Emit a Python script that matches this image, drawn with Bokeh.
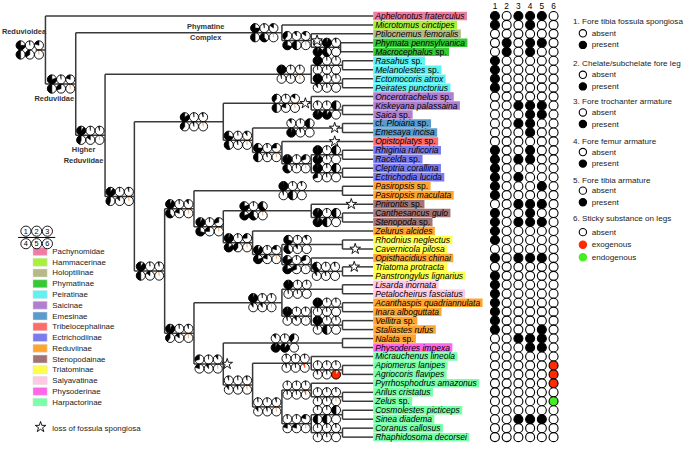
import math
from bokeh.plotting import figure
from bokeh.models import Range1d
from bokeh.embed import file_html
from bokeh.resources import INLINE
from bokeh.core.properties import value

# ---------------- DATA ----------------
taxa = [
    "Aphelonotus fraterculus", "Microtomus cinctipes", "Ptilocnemus femoralis",
    "Phymata pennsylvanica", "Macrocephalus sp.", "Rasahus sp.", "Melanolestes sp.",
    "Ectomocoris atrox", "Peirates punctorius", "Oncerotrachelus sp.",
    "Kiskeyana palassaina", "Saica sp.", "cf. Ploiaria sp.", "Emesaya incisa",
    "Opistoplatys sp.", "Rhiginia ruficoria", "Racelda sp.", "Cleptria corallina",
    "Ectrichodia lucida", "Pasiropsis sp.", "Pasiropsis maculata", "Pnirontis sp.",
    "Canthesancus gulo", "Stenopoda sp.", "Zelurus alcides", "Rhodnius neglectus",
    "Cavernicola pilosa", "Opisthacidius chinai", "Triatoma protracta",
    "Panstrongylus lignarius", "Lisarda inornata", "Petalocheirus fasciatus",
    "Acanthaspis quadriannulata", "Inara alboguttata", "Vellitra sp.",
    "Staliastes rufus", "Nalata sp.", "Physoderes impexa", "Micrauchenus lineola",
    "Apiomerus lanipes", "Agriocoris flavipes", "Pyrrhosphodrus amazonus",
    "Arilus cristatus", "Zelus sp.", "Cosmolestes picticeps", "Sinea diadema",
    "Coranus callosus", "Rhaphidosoma decorsei",
]
taxon_subfamily = (
    ["Pachynomidae", "Hammacerinae", "Holoptilinae"] + ["Phymatinae"] * 2 +
    ["Peiratinae"] * 4 + ["Saicinae"] * 3 + ["Emesinae"] * 2 + ["Tribelocephalinae"] +
    ["Ectrichodiinae"] * 4 + ["Reduviinae"] * 2 + ["Stenopodainae"] * 3 +
    ["Reduviinae"] + ["Triatominae"] * 2 + ["Reduviinae"] + ["Triatominae"] * 2 +
    ["Salyavatinae"] * 2 + ["Reduviinae"] * 4 + ["Reduviinae", "Physoderinae"] +
    ["Harpactorinae"] * 10
)
subfamilies = ["Pachynomidae", "Hammacerinae", "Holoptilinae", "Phymatinae", "Peiratinae",
               "Saicinae", "Emesinae", "Tribelocephalinae", "Ectrichodiinae", "Reduviinae",
               "Stenopodainae", "Triatominae", "Salyavatinae", "Physoderinae", "Harpactorinae"]
subfamily_colors = ["#f27ba3", "#a8f03a", "#b5b985", "#36c936", "#5ef2f2", "#b07fcf",
                    "#5b9bcb", "#ff6b6b", "#7b7bef", "#ffa52f", "#a07474", "#ffff4a",
                    "#ffc9e2", "#ff66e8", "#78ffa8"]

# character states per taxon: 0 absent, 1 present, r exogenous, g endogenous
matrix = [
    "101110", "100100", "000000", "010110", "010100", "100000", "100000", "100000",
    "100000", "000000", "001110", "000110", "001100", "000100", "000000", "100100",
    "101100", "100000", "101000", "100010", "100000", "001110", "100100", "101110",
    "100000", "100000", "000000", "101110", "000000", "100000", "100000", "100000",
    "100000", "100000", "100000", "100010", "001110", "000110", "000000", "00000r",
    "00000r", "00000r", "000000", "00000g", "000000", "001110", "000000", "000000",
]
char_numbers = ["1", "2", "3", "4", "5", "6"]
char_titles = ["1. Fore tibia fossula spongiosa", "2. Chelate/subchelate fore leg",
               "3. Fore trochanter armature", "4. Fore femur armature",
               "5. Fore tibia armature", "6. Sticky substance on legs"]
char_states = [["absent", "present"]] * 5 + [["absent", "exogenous", "endogenous"]]
state_colors = {"absent": "white", "present": "black", "exogenous": "#ff2a00",
                "endogenous": "#44ee22"}

# tree topology: internal node -> children (leaf index or node name)
tree = {
    "Reduvioidea": [0, "Reduviidae"], "Reduviidae": ["Phymatine", "Higher"],
    "Phymatine": [1, "PhyA"], "PhyA": [2, "Phymatinae"], "Phymatinae": [3, 4],
    "Higher": ["Peiratinae", "C1"], "Peiratinae": ["Pei1", "Pei2"], "Pei1": [5, 6],
    "Pei2": [7, 8], "C1": ["D1", "E1"], "D1": ["Saicinae", "T1"],
    "Saicinae": [9, "Sai2"], "Sai2": [10, 11], "T1": ["Emesinae", "U1"],
    "Emesinae": [12, 13], "U1": [14, "Ectrichodiinae"],
    "Ectrichodiinae": ["Ect1", "Ect2"], "Ect1": [15, 16], "Ect2": [17, 18],
    "E1": ["F1", "G1"], "F1": ["Pasiropsis", "H1"], "Pasiropsis": [19, 20],
    "H1": ["Stenopodainae", "I1"], "Stenopodainae": [21, "Ste2"], "Ste2": [22, 23],
    "I1": [24, "J1"], "J1": ["Rhod", "K1"], "Rhod": [25, 26], "K1": [27, "Tria"],
    "Tria": [28, 29], "G1": ["L1", "M1"], "L1": ["Salyavatinae", "N1"],
    "Salyavatinae": [30, 31], "N1": ["Aca", "Vel"], "Aca": [32, 33], "Vel": [34, 35],
    "M1": ["Nal", "O1"], "Nal": [36, 37], "O1": ["P1", "Q1"], "P1": [38, "Api"],
    "Api": [39, 40], "Q1": ["R1", "S1"], "R1": [41, "Ari"], "Ari": [42, 43],
    "S1": ["Cos", "Cor"], "Cos": [44, 45], "Cor": [46, 47],
}
# ancestral state probabilities (black share for chars 1-5, red share for char 6)
node_pies = {
    "Reduvioidea": [0.75, 0.02, 0.2, 0.5, 0.35, 0.02],
    "Reduviidae": [0.8, 0.02, 0.2, 0.5, 0.3, 0.02],
    "Phymatine": [0.75, 0.03, 0.15, 0.5, 0.6, 0.02],
    "PhyA": [0.4, 0.1, 0.15, 0.7, 0.5, 0.01],
    "Phymatinae": [0.1, 0.95, 0.05, 0.95, 0.6, 0.0],
    "Higher": [0.9, 0.02, 0.05, 0.45, 0.15, 0.02],
    "Peiratinae": [0.98, 0.02, 0.02, 0.04, 0.03, 0.01],
    "Pei1": [0.99, 0.01, 0.02, 0.02, 0.02, 0.0],
    "Pei2": [0.99, 0.01, 0.02, 0.1, 0.02, 0.0],
    "C1": [0.9, 0.02, 0.05, 0.45, 0.12, 0.02],
    "D1": [0.85, 0.02, 0.05, 0.4, 0.05, 0.02],
    "Saicinae": [0.4, 0.03, 0.15, 0.5, 0.2, 0.01],
    "Sai2": [0.05, 0.02, 0.5, 0.95, 0.9, 0.0],
    "T1": [0.7, 0.02, 0.1, 0.55, 0.05, 0.02],
    "Emesinae": [0.1, 0.02, 0.5, 0.95, 0.05, 0.0],
    "U1": [0.75, 0.03, 0.25, 0.5, 0.05, 0.02],
    "Ectrichodiinae": [0.97, 0.02, 0.3, 0.6, 0.03, 0.01],
    "Ect1": [0.98, 0.02, 0.5, 0.95, 0.03, 0.0],
    "Ect2": [0.98, 0.02, 0.5, 0.3, 0.03, 0.0],
    "E1": [0.9, 0.02, 0.05, 0.5, 0.15, 0.02],
    "F1": [0.92, 0.02, 0.1, 0.6, 0.2, 0.02],
    "Pasiropsis": [0.98, 0.02, 0.05, 0.05, 0.5, 0.0],
    "H1": [0.92, 0.02, 0.3, 0.7, 0.25, 0.02],
    "Stenopodainae": [0.8, 0.02, 0.6, 0.8, 0.6, 0.01],
    "Ste2": [0.95, 0.02, 0.5, 0.95, 0.5, 0.0],
    "I1": [0.95, 0.02, 0.25, 0.85, 0.4, 0.02],
    "J1": [0.9, 0.02, 0.2, 0.8, 0.2, 0.02],
    "Rhod": [0.7, 0.02, 0.1, 0.6, 0.1, 0.0],
    "K1": [0.8, 0.02, 0.3, 0.8, 0.3, 0.01],
    "Tria": [0.6, 0.02, 0.05, 0.1, 0.05, 0.0],
    "G1": [0.92, 0.02, 0.05, 0.4, 0.15, 0.02],
    "L1": [0.95, 0.02, 0.03, 0.1, 0.1, 0.02],
    "Salyavatinae": [0.97, 0.02, 0.02, 0.03, 0.03, 0.0],
    "N1": [0.97, 0.02, 0.03, 0.05, 0.1, 0.01],
    "Aca": [0.98, 0.02, 0.02, 0.02, 0.03, 0.0],
    "Vel": [0.98, 0.02, 0.02, 0.05, 0.5, 0.0],
    "M1": [0.3, 0.02, 0.1, 0.2, 0.1, 0.02],
    "Nal": [0.1, 0.02, 0.4, 0.95, 0.9, 0.0],
    "O1": [0.05, 0.02, 0.05, 0.1, 0.05, 0.03],
    "P1": [0.03, 0.02, 0.03, 0.05, 0.03, 0.06],
    "Api": [0.02, 0.02, 0.02, 0.05, 0.03, 0.9],
    "Q1": [0.03, 0.02, 0.05, 0.1, 0.05, 0.03],
    "R1": [0.02, 0.02, 0.03, 0.03, 0.03, 0.05],
    "Ari": [0.02, 0.02, 0.02, 0.03, 0.03, 0.02],
    "S1": [0.03, 0.02, 0.2, 0.2, 0.2, 0.02],
    "Cos": [0.02, 0.02, 0.5, 0.5, 0.5, 0.0],
    "Cor": [0.02, 0.02, 0.03, 0.03, 0.03, 0.0],
}
clade_labels = ["Reduvioidea", "Phymatine", "Complex", "Reduviidae", "Higher", "Reduviidae"]
loss_label = "loss of fossula spongiosa"
loss_branches = ["PhyA", "Saicinae", "Emesinae", 14, 21, 26, 28, "M1"]

# ---------------- LAYOUT ----------------
W, H = 700, 459
FW, FH = 684, 443
FS = FW / W
def Y(y):
    return H - y
def px(v):
    return "%.2fpx" % (v * FS)

node_x = {
    "Reduvioidea": 46, "Reduviidae": 77, "Phymatine": 288, "PhyA": 318, "Phymatinae": 348,
    "Higher": 107, "Peiratinae": 318, "Pei1": 350, "Pei2": 350, "C1": 137, "D1": 228,
    "Saicinae": 318, "Sai2": 350, "T1": 258, "Emesinae": 350, "U1": 288,
    "Ectrichodiinae": 318, "Ect1": 350, "Ect2": 350, "E1": 168, "F1": 198,
    "Pasiropsis": 350, "H1": 228, "Stenopodainae": 318, "Ste2": 350, "I1": 258,
    "J1": 288, "Rhod": 350, "K1": 318, "Tria": 350, "G1": 198, "L1": 288,
    "Salyavatinae": 350, "N1": 318, "Aca": 350, "Vel": 350, "M1": 228, "Nal": 350,
    "O1": 258, "P1": 318, "Api": 350, "Q1": 288, "R1": 318, "Ari": 350, "S1": 318,
    "Cos": 350, "Cor": 350,
}
pie_anchor = {
    "Reduvioidea": 44, "Reduviidae": 76, "Phymatine": 284, "PhyA": 317, "Phymatinae": 348,
    "Higher": 106, "Peiratinae": 311, "Pei1": 348, "Pei2": 348, "C1": 136, "D1": 212,
    "Saicinae": 306, "Sai2": 348, "T1": 257, "Emesinae": 321, "U1": 287,
    "Ectrichodiinae": 317, "Ect1": 348, "Ect2": 348, "E1": 167, "F1": 197,
    "Pasiropsis": 313, "H1": 228, "Stenopodainae": 273, "Ste2": 348, "I1": 257,
    "J1": 287, "Rhod": 318, "K1": 317, "Tria": 347, "G1": 197, "L1": 282,
    "Salyavatinae": 318, "N1": 317, "Aca": 348, "Vel": 348, "M1": 227, "Nal": 305,
    "O1": 257, "P1": 316, "Api": 348, "Q1": 287, "R1": 317, "Ari": 348, "S1": 317,
    "Cos": 348, "Cor": 348,
}
loss_x = {"PhyA": 324, "Saicinae": 312, "Emesinae": 342, 14: 342, 21: 359, 26: 363,
          28: 362, "M1": 232}
ROW0, ROWSTEP = 16.0, 9.285
LEAF_X = 381.5
leaf_y = [ROW0 + i * ROWSTEP for i in range(len(taxa))]

node_y = {}
def get_y(n):
    if isinstance(n, int):
        return leaf_y[n]
    if n not in node_y:
        ch = tree[n]
        node_y[n] = (get_y(ch[0]) + get_y(ch[-1])) / 2.0
    return node_y[n]
def get_x(n):
    return LEAF_X if isinstance(n, int) else node_x[n]
for n in tree:
    get_y(n)

p = figure(width=FW, height=FH, x_range=Range1d(0, W), y_range=Range1d(0, H),
           output_backend="svg", toolbar_location=None, min_border=0,
           x_axis_location=None, y_axis_location=None)
p.grid.visible = False
p.outline_line_color = None
p.background_fill_color = "white"

# ---- tree edges ----
x0s, y0s, x1s, y1s = [], [], [], []
for n, ch in tree.items():
    nx = node_x[n]
    ys = [get_y(c) for c in ch]
    x0s.append(nx); x1s.append(nx); y0s.append(Y(min(ys))); y1s.append(Y(max(ys)))
    for c in ch:
        x0s.append(nx); x1s.append(get_x(c)); y0s.append(Y(get_y(c))); y1s.append(Y(get_y(c)))
x0s.append(36); x1s.append(node_x["Reduvioidea"])
y0s.append(Y(node_y["Reduvioidea"])); y1s.append(Y(node_y["Reduvioidea"]))
p.segment(x0=x0s, y0=y0s, x1=x1s, y1=y1s, line_color="#3a3a3a", line_width=1.5)

# ---- pies ----
R, DX, ROFF = 4.6, 9.4, 4.8
pcx, pcy, wx, wy, wend, wcol = [], [], [], [], [], []
for n, vals in node_pies.items():
    a = pie_anchor[n]
    yc = node_y[n]
    for k, f in enumerate(vals):
        col = k % 3
        cx = a - R - DX * (2 - col)
        cy = yc - ROFF if k < 3 else yc + ROFF
        pcx.append(cx); pcy.append(Y(cy))
        if f > 0:
            f = min(f, 0.995)
            wx.append(cx); wy.append(Y(cy))
            wend.append(math.pi / 2 + 2 * math.pi * f)
            if k == 5:
                wcol.append("#ff2a00" if f >= 0.05 else "#f0a060")
            else:
                wcol.append("black")
p.circle(x=pcx, y=pcy, radius=R, fill_color="white", line_color=None)
p.wedge(x=wx, y=wy, radius=R, start_angle=math.pi / 2, end_angle=wend,
        direction="anticlock", fill_color=wcol, line_color=wcol, line_width=0.5)
p.circle(x=pcx, y=pcy, radius=R, fill_color=None, line_color="black", line_width=0.9)

# ---- loss stars ----
sx, sy = [], []
for b in loss_branches:
    sx.append(loss_x[b]); sy.append(Y(get_y(b)))
sx.append(41); sy.append(Y(442))
p.scatter(x=sx, y=sy, marker="star", size=11.5 * FS, fill_color="white",
          line_color="black", line_width=0.9)

# ---- clade labels ----
cl_pos = [(24, 32.5), (210, 27), (210, 38.5), (55, 101.5), (85, 154.5), (85, 166)]
p.text(x=[c[0] for c in cl_pos], y=[Y(c[1]) for c in cl_pos], text=clade_labels,
       text_font=value("Liberation Sans"), text_font_style="bold",
       text_font_size=px(7.6), text_color="#333333", text_align="center",
       text_baseline="middle")

# ---- taxon labels ----
AW = {}
for ch_, w in zip("abcdefghijklmnopqrstuvwxyz",
                  [556, 556, 500, 556, 556, 278, 556, 556, 222, 222, 500, 222, 833, 556, 556,
                   556, 556, 333, 500, 278, 556, 500, 722, 500, 500, 500]):
    AW[ch_] = w
for ch_, w in zip("ABCDEFGHIJKLMNOPQRSTUVWXYZ",
                  [667, 667, 722, 722, 667, 611, 778, 722, 278, 500, 667, 556, 833, 722, 778,
                   667, 778, 722, 667, 611, 722, 667, 944, 667, 667, 611]):
    AW[ch_] = w
AW[" "] = 278; AW["."] = 278
def tw(s, size):
    return sum(AW.get(c, 556) for c in s) / 1000.0 * size

LFS = 8.7
box_x, box_w, box_y, box_c = [], [], [], []
it_x, it_y, it_t, no_x, no_y, no_t = [], [], [], [], [], []
for i, name in enumerate(taxa):
    yy = leaf_y[i]
    w = tw(name, LFS)
    box_x.append(LEAF_X + (w + 4.5) / 2); box_w.append(w + 4.5); box_y.append(Y(yy))
    box_c.append(subfamily_colors[subfamilies.index(taxon_subfamily[i])])
    groups = []
    for word in name.split(" "):
        st = "n" if word in ("sp.", "cf.") else "i"
        if groups and groups[-1][0] == st:
            groups[-1][1].append(word)
        else:
            groups.append([st, [word]])
    cur = LEAF_X + 2
    for st, words in groups:
        s = " ".join(words)
        if st == "i":
            it_x.append(cur); it_y.append(Y(yy)); it_t.append(s)
        else:
            no_x.append(cur); no_y.append(Y(yy)); no_t.append(s)
        cur += tw(s + " ", LFS)
p.rect(x=box_x, y=box_y, width=box_w, height=8.8, fill_color=box_c, line_color=None)
p.text(x=it_x, y=it_y, text=it_t, text_font=value("Liberation Sans"),
       text_font_style="italic", text_font_size=px(LFS), text_baseline="middle",
       text_align="left", text_color="black")
p.text(x=no_x, y=no_y, text=no_t, text_font=value("Liberation Sans"),
       text_font_size=px(LFS), text_baseline="middle", text_align="left",
       text_color="black")

# ---- matrix ----
col_x = [506, 518, 530, 542, 554, 566]
mx, my, mc = [], [], []
for i, row in enumerate(matrix):
    for j, s in enumerate(row):
        mx.append(col_x[j]); my.append(Y(leaf_y[i]))
        mc.append({"0": "white", "1": "black", "r": "#ff2a00", "g": "#44ee22"}[s])
p.scatter(x=mx, y=my, size=9.2 * FS, fill_color=mc, line_color="black", line_width=1.1)
p.text(x=col_x, y=[Y(5.5)] * 6, text=char_numbers, text_font=value("Liberation Sans"),
       text_font_size=px(8.5), text_align="center", text_baseline="middle",
       text_color="black")

# ---- right legend ----
title_y = [22, 65, 105, 146, 186, 226]
opt_y = [[34, 46], [77, 89], [116, 128], [157, 169], [197, 209], [240, 253, 266]]
p.text(x=[586] * 6, y=[Y(v) for v in title_y], text=char_titles,
       text_font=value("Liberation Sans"), text_font_size=px(8.3),
       text_baseline="middle", text_align="left", text_color="#222222")
ox, oy, ot, oc = [], [], [], []
for states, ys in zip(char_states, opt_y):
    for s, yy in zip(states, ys):
        ox.append(596); oy.append(Y(yy)); ot.append(s); oc.append(state_colors[s])
p.scatter(x=ox, y=oy, size=7.5 * FS, fill_color=oc,
          line_color=["black" if c in ("white", "black") else c for c in oc], line_width=1.1)
p.text(x=[605] * len(ot), y=oy, text=ot, text_font=value("Liberation Sans"),
       text_font_size=px(8.3), text_baseline="middle", text_align="left",
       text_color="#222222")

# ---- subfamily legend ----
leg_y = [260 + k * 11.15 for k in range(len(subfamilies))]
p.rect(x=[40.5] * len(subfamilies), y=[Y(v) for v in leg_y], width=14.5, height=8.2,
       fill_color=subfamily_colors, line_color="#dddddd", line_width=0.5)
p.text(x=[53] * len(subfamilies), y=[Y(v) for v in leg_y], text=subfamilies,
       text_font=value("Liberation Sans"), text_font_size=px(8.1),
       text_baseline="middle", text_align="left", text_color="#222222")
p.text(x=[53], y=[Y(443)], text=[loss_label], text_font=value("Liberation Sans"),
       text_font_size=px(8.1), text_baseline="middle", text_align="left",
       text_color="#222222")

# ---- character key (circled numbers) ----
kx = [26, 37, 48, 26, 37, 48]
ky = [239, 239, 239, 252, 252, 252]
p.segment(x0=[18], y0=[Y(245.5)], x1=[56], y1=[Y(245.5)], line_color="black", line_width=1)
p.circle(x=kx, y=[Y(v) for v in ky], radius=5.2, fill_color="white", line_color="black",
         line_width=0.9)
p.text(x=kx, y=[Y(v) for v in ky], text=char_numbers, text_font=value("Liberation Sans"),
       text_font_size=px(7.5), text_align="center", text_baseline="middle",
       text_color="black")

open("out.html", "w").write(file_html(p, INLINE))
